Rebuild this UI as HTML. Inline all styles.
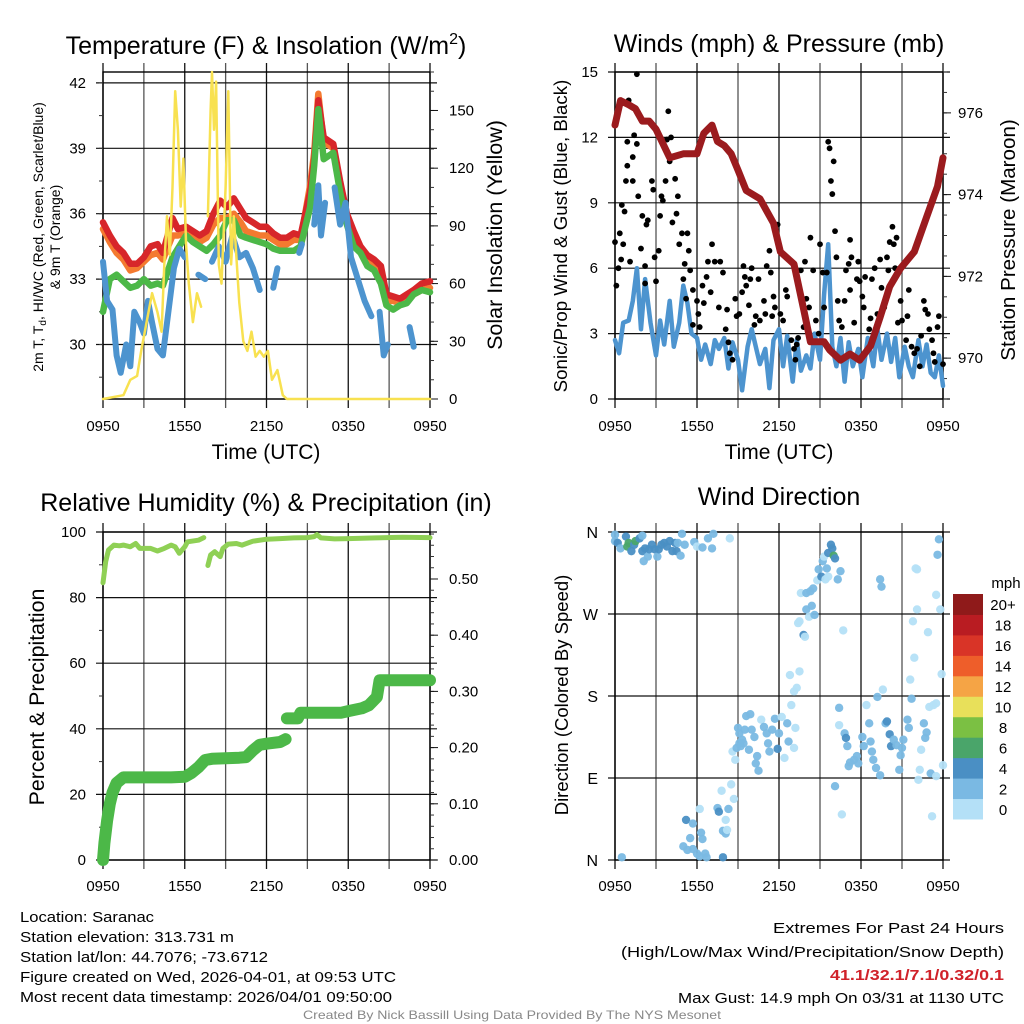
<!DOCTYPE html>
<html><head><meta charset="utf-8"><style>
html,body{margin:0;padding:0;background:#fff;}
svg{display:block;font-family:"Liberation Sans",sans-serif;}
</style></head><body>
<svg id="chart" width="1024" height="1024" viewBox="0 0 1024 1024" xmlns="http://www.w3.org/2000/svg">
<rect width="1024" height="1024" fill="#fff"/>
<text x="266" y="54" font-size="25" text-anchor="middle">Temperature (F) &amp; Insolation (W/m<tspan font-size="16" dy="-10">2</tspan><tspan dy="10">)</tspan></text>
<text x="779" y="52" font-size="25" text-anchor="middle">Winds (mph) &amp; Pressure (mb)</text>
<text x="266" y="511" font-size="25" text-anchor="middle">Relative Humidity (%) &amp; Precipitation (in)</text>
<text x="779" y="505" font-size="25" text-anchor="middle">Wind Direction</text>
<text x="266" y="459" font-size="21" text-anchor="middle">Time (UTC)</text>
<text x="779" y="459" font-size="21" text-anchor="middle">Time (UTC)</text>
<text transform="translate(43,237) rotate(-90)" font-size="14" text-anchor="middle">2m T, T<tspan font-size="10" dy="3">d</tspan><tspan dy="-3">, HI/WC (Red, Green, Scarlet/Blue)</tspan></text>
<text transform="translate(60,237) rotate(-90)" font-size="14" text-anchor="middle">&amp; 9m T (Orange)</text>
<text transform="translate(502,235) rotate(-90)" font-size="21.5" text-anchor="middle">Solar Insolation (Yellow)</text>
<text transform="translate(567,236) rotate(-90)" font-size="18.7" text-anchor="middle">Sonic/Prop Wind &amp; Gust (Blue, Black)</text>
<text transform="translate(1015,240) rotate(-90)" font-size="20.6" text-anchor="middle">Station Pressure (Maroon)</text>
<text transform="translate(44,697) rotate(-90)" font-size="21.3" text-anchor="middle">Percent &amp; Precipitation</text>
<text transform="translate(568,695) rotate(-90)" font-size="18.5" text-anchor="middle">Direction (Colored By Speed)</text>
<g id="layers"></g>
<g font-size="14.5">
<text x="20" y="922" textLength="134" lengthAdjust="spacingAndGlyphs">Location: Saranac</text>
<text x="20" y="942" textLength="214" lengthAdjust="spacingAndGlyphs">Station elevation: 313.731 m</text>
<text x="20" y="962" textLength="248" lengthAdjust="spacingAndGlyphs">Station lat/lon: 44.7076; -73.6712</text>
<text x="20" y="982" textLength="376" lengthAdjust="spacingAndGlyphs">Figure created on Wed, 2026-04-01, at 09:53 UTC</text>
<text x="20" y="1002" textLength="372" lengthAdjust="spacingAndGlyphs">Most recent data timestamp: 2026/04/01 09:50:00</text>
</g>
<g font-size="15">
<text x="773" y="933" textLength="231" lengthAdjust="spacingAndGlyphs">Extremes For Past 24 Hours</text>
<text x="621" y="957" textLength="383" lengthAdjust="spacingAndGlyphs">(High/Low/Max Wind/Precipitation/Snow Depth)</text>
<text x="830" y="980" textLength="174" lengthAdjust="spacingAndGlyphs" fill="#d0222a" font-weight="bold">41.1/32.1/7.1/0.32/0.1</text>
<text x="678" y="1003" textLength="326" lengthAdjust="spacingAndGlyphs">Max Gust: 14.9 mph On 03/31 at 1130 UTC</text>
</g>
<text x="303" y="1019" font-size="12" fill="#888" textLength="418" lengthAdjust="spacingAndGlyphs">Created By Nick Bassill Using Data Provided By The NYS Mesonet</text>
</svg>
<script>
// ---------- data ----------
const timeTickLabels = ["0950","1550","2150","0350","0950"];
const tempTicks = [30,33,36,39,42];
const solarTicks = [0,30,60,90,120,150];
const windTicks = [0,3,6,9,12,15];
const pressTicks = [970,972,974,976];
const rhTicks = [0,20,40,60,80,100];
const precipTicks = [0,0.1,0.2,0.3,0.4,0.5];
const dirTickLabels = ["N","E","S","W","N"];
const dirTicks = [0,90,180,270,360];

const tempHours = [0,0.5,1,1.5,2,2.5,3,3.5,4,4.4,5.1,5.5,6.1,6.6,7.1,7.6,8.1,8.6,9.1,9.6,10.1,10.5,11,11.5,12,12.5,13,13.5,14,14.5,15.2,15.5,15.8,16.2,16.9,17.4,17.9,18.4,18.9,19.4,19.9,20.4,20.8,21.3,21.8,22.3,22.8,23.4,24];
const tempRed = [35.6,35.0,34.5,34.2,33.7,33.7,34.0,34.5,34.6,34.2,35.8,35.3,35.4,35.2,35.0,35.2,36.0,36.6,36.3,36.7,36.2,35.8,35.6,35.4,35.4,35.1,34.9,34.9,35.1,35.0,37.0,38.5,41.2,39.5,39.2,37.5,36.0,35.2,34.5,34.1,33.9,33.6,32.3,32.2,32.1,32.3,32.5,32.8,32.9];
const tempOrange = [35.3,34.7,34.2,33.9,33.4,33.5,33.8,34.1,34.2,33.9,35.0,35.0,35.1,34.9,34.7,34.9,35.5,35.8,35.8,36.0,35.6,35.2,35.1,35.0,35.0,34.8,34.6,34.6,34.8,34.8,37.3,38.8,41.5,39.3,39.0,37.3,35.8,35.0,34.3,33.8,33.6,33.3,32.0,32.0,31.9,32.1,32.3,32.5,32.6];
const tempGreen = [31.5,33.0,33.2,32.9,32.6,32.7,33.0,32.7,32.8,32.7,34.0,34.4,35.0,34.7,34.5,34.3,34.6,35.0,35.7,35.7,35.0,34.9,34.8,34.7,34.6,34.4,34.3,34.3,34.3,34.5,36.3,38.2,40.8,38.5,38.8,37.0,35.5,34.5,34.2,33.6,33.4,32.8,31.8,31.6,31.8,31.9,32.3,32.5,32.4];
const dewHours = [0,0.3,0.7,1,1.3,1.7,2,2.3,2.7,3,3.3,3.6,4,4.4,4.8,5.2,5.6,6,6.2,7,7.5,7.8,8,8.5,9,9.5,10,10.5,11,11.5,11.9,12.5,12.8,13.1,14.4,14.6,15.0,15.5,15.8,16,16.3,16.6,17,17.4,17.8,18.2,18.7,19.2,19.7,20,20.3,20.6,20.9,21.1,22.5,22.8,23];
const dewBlue = [33.8,32.0,31.6,29.5,28.7,30.0,29.0,31.5,31.0,30.5,32.0,31.0,29.8,29.5,31.5,33.5,34.4,34.0,null,33.2,33.0,null,33.8,34.5,33.8,35.0,34.0,34.2,33.5,32.5,null,32.6,33.5,null,34.2,34.6,null,35.5,37.3,35.0,36.5,null,37.2,35.5,36.5,34.0,33.0,32.0,31.3,null,31.5,29.5,30.0,null,30.8,29.9,null];
const solarHours = [0,1.5,2,2.5,2.8,3.2,3.6,4,4.3,4.5,4.7,4.9,5.1,5.3,5.5,5.7,5.9,6.1,6.3,6.6,6.9,7.2,7.3,7.7,7.9,8.0,8.15,8.3,8.5,8.7,9.0,9.2,9.4,9.6,10.0,10.3,10.6,10.9,11.2,11.5,11.8,12.1,12.4,12.8,13.2,13.5,24];
const solarVals = [0,2,10,12,25,40,55,45,35,70,95,75,110,160,140,100,125,80,60,40,55,48,null,95,150,170,140,165,70,60,110,160,70,95,50,30,25,35,22,25,22,25,10,15,2,0,0];

const windHours = [0,0.3,0.6,1,1.3,1.6,1.9,2.2,2.6,3,3.3,3.6,4,4.3,4.7,5,5.3,5.6,6,6.3,6.6,7,7.3,7.6,8,8.3,8.6,9,9.3,9.7,10,10.3,10.6,11,11.3,11.6,12,12.3,12.6,13,13.3,13.6,14,14.3,14.6,15,15.3,15.6,15.9,16.2,16.5,16.8,17.1,17.4,17.8,18.1,18.5,18.9,19.2,19.5,19.9,20.2,20.5,20.8,21.2,21.5,21.8,22.2,22.5,22.8,23.1,23.4,23.7,24];
const windSpeed = [2.7,2.1,3.5,3.6,4.5,6.0,3.2,5.5,3.5,2.0,3.6,2.5,4.5,2.4,3.5,5.2,4.4,3.0,2.8,1.8,2.5,1.6,2.7,2.3,2.8,1.4,2.6,1.8,0.4,2.4,3.2,2.4,1.6,2.3,0.5,2.7,3.2,1.5,2.9,0.8,2.7,1.3,2.0,1.4,3.0,1.8,4.8,7.1,2.4,1.5,2.8,0.8,2.6,1.5,2.3,1.0,2.8,1.5,3.2,1.8,3.0,1.7,2.8,1.0,2.4,1.5,1.0,2.7,1.5,2.5,1.2,1.0,2.0,0.6];
const gustHours = [0,0.1,0.25,0.35,0.5,0.7,0.6,0.45,0.8,0.9,1.0,0.9,1.1,1.3,1.3,1.4,1.6,1.6,1.7,2.0,1.9,2.2,2.2,2.3,2.4,2.7,2.8,2.9,3.0,3.2,3.3,3.4,3.5,3.7,3.8,3.9,4.0,4.1,4.2,4.4,4.5,4.6,4.7,4.9,5.0,5.1,5.3,5.4,5.5,5.2,5.7,5.7,6.0,6.1,6.2,6.4,6.5,6.7,6.8,7.0,7.1,7.3,7.6,7.7,7.9,8.1,8.2,8.3,8.4,8.6,8.8,8.9,9.1,9.3,9.4,9.5,9.6,9.8,9.9,10.0,10.2,10.3,10.5,10.6,10.9,11.0,11.1,11.3,11.4,11.5,11.6,11.7,11.9,12.1,12.3,12.5,12.6,12.9,13.1,13.2,13.3,13.4,13.6,13.8,13.9,14.0,14.2,14.3,14.5,14.7,14.9,15.0,15.2,15.3,15.5,15.6,15.7,15.8,15.9,16.0,16.1,16.2,16.3,16.4,16.6,16.8,16.9,17.1,17.2,17.3,17.2,17.5,17.7,17.8,17.9,18.1,18.2,18.3,18.6,18.7,18.8,19.0,19.2,19.4,19.5,19.7,19.9,20.0,20.1,20.3,20.4,20.6,20.5,20.7,20.9,21.0,21.3,21.4,21.5,21.7,21.9,22.1,22.3,22.4,22.6,22.7,22.9,23.0,23.2,23.3,23.4,23.6,23.7,24];
const gustSpeed = [7.2,5.2,6.0,7.6,8.9,8.6,7.1,6.4,10.0,11.8,13.7,10.7,6.3,10.0,11.1,12.1,14.9,11.7,9.3,8.4,6.9,6.1,5.3,8.0,8.2,10.0,9.6,6.5,5.4,6.8,8.4,9.3,9.1,10.0,11.9,13.2,10.9,12.0,8.1,10.1,8.5,9.3,7.1,7.6,5.5,6.2,7.6,6.8,5.9,4.6,5.0,3.4,4.5,3.9,3.3,5.2,4.4,5.6,6.3,4.9,7.1,6.3,4.2,6.3,5.8,3.2,4.1,2.6,2.1,1.8,4.6,3.8,3.9,4.9,6.1,5.6,5.2,4.3,5.5,6.0,3.4,3.8,5.5,3.6,4.5,3.9,6.1,6.8,5.8,3.8,4.7,4.2,8.0,3.9,3.6,5.0,4.7,2.7,2.3,1.8,2.5,2.8,5.9,3.3,6.3,4.6,4.2,7.4,5.9,3.6,3.0,7.1,5.8,4.2,5.8,11.8,11.5,10.0,9.4,10.9,7.7,6.5,4.5,3.6,3.3,4.5,5.9,6.2,7.3,6.5,5.0,3.5,5.5,6.3,5.4,4.7,4.2,5.6,3.2,3.7,5.5,6.0,3.9,6.4,5.1,4.2,6.5,5.9,7.2,7.9,7.1,7.4,6.0,3.5,4.5,3.6,2.7,3.8,5.0,2.4,2.1,2.3,1.5,2.9,4.5,4.1,3.9,3.2,2.7,2.1,1.7,3.3,3.8,1.6];
const pressHours = [0,0.4,1,1.5,2,2.5,3,4,5,6,6.5,7.1,7.5,8,8.5,9,9.6,10.6,11.6,12.1,13.1,13.8,14.3,15.3,15.7,16.5,17.2,17.9,18.7,19.4,20.1,20.9,21.9,22.8,23.6,24];
const pressVals = [975.7,976.3,976.2,976.1,975.8,975.8,975.6,974.9,975.0,975.0,975.5,975.7,975.3,975.2,975.0,974.6,974.1,973.9,973.3,972.6,972.3,971.2,970.4,970.4,970.2,969.95,970.1,969.95,970.3,971.0,971.75,972.2,972.6,973.45,974.2,974.9];

const rhHours = [0,0.2,0.4,0.8,1.2,1.5,2,2.4,2.7,3,3.5,4,4.5,5,5.3,5.6,6,6.2,7,7.4,7.5,7.7,7.9,8.2,8.6,8.8,9.2,9.8,10.2,11,12,13,14,15,15.5,15.7,16,17,18,20,22,24];
const rhVals = [84.5,91,94.5,96,95.8,96,95.5,96.5,95,95,95,94.2,95,96,95.5,93.5,95.5,97,97.5,98.3,null,89.8,93,94,92.5,95,96.3,96.5,96,97.2,97.8,98,98.2,98.3,98.6,99.2,98.2,97.9,98,98.2,98.4,98.3];
const precipHours = [0,0.1,0.3,0.5,0.7,1,1.5,2,5,6,6.5,7,7.5,8,10,10.5,11,11.5,12,13,13.4,13.45,13.5,14.3,14.5,17.5,18,19,19.5,20.1,20.3,24];
const precipVals = [0,0.03,0.07,0.10,0.12,0.137,0.147,0.147,0.147,0.148,0.155,0.165,0.178,0.180,0.182,0.183,0.195,0.205,0.207,0.210,0.215,null,0.252,0.252,0.262,0.262,0.265,0.270,0.275,0.290,0.32,0.32];

const dirHours = [0,0,0.2,0.4,0.8,0.9,1.0,1.2,1.4,1.5,1.8,2.0,2.0,2.1,2.2,2.4,2.5,2.7,2.9,3.1,3.2,3.4,3.6,3.8,4.0,4.2,4.4,4.5,4.6,4.8,4.9,5.1,5.8,6.0,6.4,6.8,7.1,7.2,8.4,0.5,
5.2,5.7,5.5,6.2,6.3,6.4,5.0,5.3,5.7,6.0,6.2,6.6,6.7,7.5,7.6,7.8,7.9,7.9,8.1,8.1,8.2,8.3,8.5,8.7,
8.6,8.8,8.9,9.0,9.1,9.2,9.3,9.5,9.6,9.9,10.0,10.2,10.4,10.5,10.7,10.9,11.1,11.2,11.3,11.5,11.7,11.9,12.0,12.2,12.4,12.6,12.7,12.9,13.1,13.2,13.1,13.3,12.8,13.5,10.3,9.8,9.4,9.1,
13.4,13.5,13.8,13.9,14.0,14.2,14.4,14.6,13.6,14.0,14.3,14.5,14.8,14.9,15.1,15.2,15.3,15.4,15.5,15.6,15.6,15.8,15.9,16.0,16.1,16.3,16.5,16.7,
16.4,16.4,16.8,16.9,17.0,17.2,17.1,17.5,17.7,17.8,18.1,18.2,18.4,18.6,18.7,18.8,18.9,19.1,19.2,19.4,19.6,19.8,19.9,20.1,20.2,20.4,20.6,20.8,20.9,21.0,21.1,21.4,21.5,21.7,21.6,21.8,21.9,22.0,22.1,22.1,22.2,22.3,22.4,22.6,22.7,22.8,22.9,23.0,23.1,23.2,23.3,23.5,23.5,23.6,23.7,23.8,23.9,24.0,19.4,19.5,16.1,16.6,23.5];
const dirDeg = [357,350,348,342,355,344,348,339,346,350,353,356,339,328,342,333,341,346,341,333,341,346,348,344,350,339,348,339,348,334,358,346,349,344,343,353,342,358,353,3,
44,40,24,56,30,23,15,11,12,7,4,7,3,57,53,76,3,32,29,44,33,56,83,67,
119,110,123,145,139,125,132,143,158,160,143,135,114,98,154,146,139,128,119,143,155,122,139,157,112,150,130,170,185,145,123,189,203,207,106,121,128,128,
260,262,247,245,275,267,279,269,293,293,295,298,307,319,311,328,333,308,320,311,337,346,342,334,331,308,317,252,
167,148,139,134,125,107,103,110,114,106,135,125,170,150,130,119,110,101,179,93,187,150,152,138,125,132,126,99,115,123,132,154,145,177,198,262,222,320,275,319,88,99,121,150,134,140,250,168,95,48,170,172,291,335,352,275,204,104,308,300,81,50,92];
const dirSpeed = [3,3,5,3,5,7,7,5,5,7,5,3,5,3,5,3,5,5,5,3,5,5,5,5,5,5,5,5,3,3,3,3,3,1,3,3,3,3,1,3,
5,3,3,1,3,3,3,3,3,3,3,3,3,3,5,1,5,3,3,1,1,3,1,1,
1,1,3,3,3,3,3,3,3,3,3,3,3,3,1,3,3,3,3,3,3,5,3,1,1,3,3,1,1,1,1,1,1,1,3,3,3,3,
1,1,5,1,3,1,3,3,1,3,3,3,1,3,5,3,1,1,3,1,5,5,5,7,5,3,3,1,
3,1,3,5,3,3,3,3,3,3,3,3,1,3,3,3,3,3,3,3,1,3,5,5,5,3,3,3,3,3,3,3,3,3,1,1,1,1,1,1,1,1,1,3,3,3,1,1,3,1,1,1,1,3,3,1,1,1,3,3,3,1,1];
const speedBins = ["0","2","4","6","8","10","12","14","16","18","20+"];
const speedColors = ["#b4e0f7","#7ab9e3","#4a8fc4","#4aa56a","#7bc043","#e8e05a","#f5a445","#ee5e2a","#d93427","#b91c22","#8f1a1a"];

// ---------- drawing ----------
const NS = "http://www.w3.org/2000/svg";
const root = document.getElementById('layers');
function mk(tag, attrs, parent){ const e=document.createElementNS(NS,tag); for(const k in attrs) e.setAttribute(k,attrs[k]); (parent||root).appendChild(e); return e; }
function lin(d0,d1,r0,r1){ return v => r0 + (v-d0)/(d1-d0)*(r1-r0); }

function panelFrame(name,x0,x1,y0,y1,hTicksVals,ly){
  const g=mk('g',{});
  
  
  for(let i=0;i<=8;i++){
    const x=x0+(x1-x0)*i/8;
    const l=mk('line',{x1:x,x2:x,y1:y0-9,y2:y1+9,stroke:(i%2? '#555':'#111'),'stroke-width':1.3},g);
    
    
  }
  hTicksVals.forEach(v=>{
    const y=ly(v);
    const l=mk('line',{x1:x0-7,x2:x1+7,y1:y,y2:y,stroke:'#111','stroke-width':1.2},g);
    
    
  });
  mk('rect',{x:x0,y:y0,width:x1-x0,height:y1-y0,fill:'none',stroke:'#000','stroke-width':1.4},g);
  return g;
}
function xLabels(name,x0,x1,y){
  timeTickLabels.forEach((t,i)=>{
    const e=mk('text',{x:x0+(x1-x0)*i/4,y:y,'font-size':15,'text-anchor':'middle'});
    e.textContent=t;
    
    
  });
}
function yLabels(name,vals,sy,x,anchor,fmt){
  vals.forEach(v=>{
    const e=mk('text',{x:x,y:sy(v)+5,'font-size':15,'text-anchor':anchor});
    e.textContent=fmt?fmt(v):v;
    
    
  });
}
function minorTicks(sy,from,to,step,x,dir,len){
  for(let v=from; v<=to+1e-9; v+=step){ const y=sy(v); mk('line',{x1:x,x2:x+dir*len,y1:y,y2:y,stroke:'#333','stroke-width':1}); }
}
function pathFrom(xs,ys,sx,sy){
  let d='',pen=false;
  for(let i=0;i<xs.length;i++){
    if(ys[i]===null||ys[i]===undefined){pen=false;continue;}
    d+=(pen?'L':'M')+sx(xs[i]).toFixed(1)+' '+sy(ys[i]).toFixed(1)+' ';
    pen=true;
  }
  return d;
}

// Panel 1
{
  const x0=103,x1=430,y0=72,y1=399;
  const sx=lin(0,24,x0,x1), sy=lin(27.5,42.5,y1,y0), ss=lin(0,170,y1,y0);
  panelFrame('temperature',x0,x1,y0,y1,tempTicks,sy);
  mk('line',{x1:x0,x2:x1,y1:ss(0),y2:ss(0),stroke:'#111','stroke-width':1.2});
  minorTicks(sy,28.5,42,1.5,x0,-1,4);
  minorTicks(ss,0,170,10,x1,1,4);
  solarTicks.forEach(v=>mk('line',{x1:x1,x2:x1+8,y1:ss(v),y2:ss(v),stroke:'#111'}));
  yLabels('temperature-y',tempTicks,sy,86,'end');
  yLabels('solar-y',solarTicks,ss,449,'start');
  xLabels('temperature',x0,x1,431);
  const series=[['orange-9m-temp-line',tempHours,tempOrange,'#f47a30',6.5],['red-2m-temp-line',tempHours,tempRed,'#d7262a',6.5],['green-hi-wc-line',tempHours,tempGreen,'#4cb848',6.5],['blue-dewpoint-line',dewHours,dewBlue,'#4d94cf',6],['yellow-solar-line',solarHours,solarVals,'#f8e150',2.5]];
  series.forEach(s=>{
    const yS = s[0].startsWith('yellow')? ss : sy;
    const p=mk('path',{d:pathFrom(s[1],s[2],sx,yS),fill:'none',stroke:s[3],'stroke-width':s[4],'stroke-linejoin':'round','stroke-linecap':'round'});
    
    
  });
}
// Panel 2
{
  const x0=615,x1=943,y0=72,y1=399;
  const sx=lin(0,24,x0,x1), sy=lin(0,15,y1,y0), sp=lin(969,977,y1,y0);
  panelFrame('wind',x0,x1,y0,y1,windTicks,sy);
  minorTicks(sp,969,977,0.5,x1,1,4);
  pressTicks.forEach(v=>mk('line',{x1:x1,x2:x1+8,y1:sp(v),y2:sp(v),stroke:'#111'}));
  yLabels('wind-y',windTicks,sy,598,'end');
  yLabels('pressure-y',pressTicks,sp,958,'start');
  xLabels('wind',x0,x1,431);
  const wp=mk('path',{d:pathFrom(windHours,windSpeed,sx,sy),fill:'none',stroke:'#4d94cf','stroke-width':4.5,'stroke-linejoin':'round','stroke-linecap':'round'});
  
  
  gustHours.forEach((t,i)=>{
    const c=mk('circle',{cx:sx(t),cy:sy(gustSpeed[i]),r:2.9,fill:'#000'});
    
    
  });
  const pp=mk('path',{d:pathFrom(pressHours,pressVals,sx,sp),fill:'none',stroke:'#9b1b1e','stroke-width':7,'stroke-linejoin':'round','stroke-linecap':'round'});
  
  
}
// Panel 3
{
  const x0=103,x1=430,y0=532,y1=860;
  const sx=lin(0,24,x0,x1), sy=lin(0,100,y1,y0), sp=lin(0,0.5836,y1,y0);
  panelFrame('humidity',x0,x1,y0,y1,rhTicks,sy);
  minorTicks(sy,10,90,20,x0,-1,4);
  minorTicks(sp,0,0.58,0.02,x1,1,4);
  precipTicks.forEach(v=>mk('line',{x1:x1,x2:x1+8,y1:sp(v),y2:sp(v),stroke:'#111'}));
  yLabels('humidity-y',rhTicks,sy,86,'end');
  yLabels('precip-y',precipTicks,sp,449,'start',v=>v.toFixed(2));
  xLabels('humidity',x0,x1,891);
  const pr=mk('path',{d:pathFrom(precipHours,precipVals,sx,sp),fill:'none',stroke:'#4cb848','stroke-width':12,'stroke-linejoin':'round','stroke-linecap':'round'});
  
  
  const rh=mk('path',{d:pathFrom(rhHours,rhVals,sx,sy),fill:'none',stroke:'#8fd055','stroke-width':5,'stroke-linejoin':'round','stroke-linecap':'round'});
  
  
}
// Panel 4
{
  const x0=615,x1=943,y0=532,y1=860;
  const sx=lin(0,24,x0,x1), sy=lin(0,360,y1,y0);
  panelFrame('direction',x0,x1,y0,y1,dirTicks,sy);
  dirTicks.forEach((v,i)=>{
    const e=mk('text',{x:598,y:sy(v)+6,'font-size':16,'text-anchor':'end'});
    e.textContent=dirTickLabels[i];
    
    
  });
  xLabels('direction',x0,x1,891);
  dirHours.forEach((t,i)=>{
    const bin=Math.min(10,Math.floor(dirSpeed[i]/2));
    const c=mk('circle',{cx:sx(t),cy:sy(dirDeg[i]),r:4.2,fill:speedColors[bin],'fill-opacity':0.95});
    
    
  });
  const cb=mk('g',{});
  
  
  const top=594,bot=819,h=(bot-top)/11;
  speedColors.forEach((col,i)=>{
    const y=bot-(i+1)*h;
    const r=mk('rect',{x:953,y:y,width:30,height:h+0.5,fill:col},cb);
    
    
    const t=mk('text',{x:1003,y:y+h/2+6,'font-size':15,'text-anchor':'middle'},cb);
    t.textContent=speedBins[i];
    
    
  });
  const u=mk('text',{x:1006,y:588,'font-size':15,'text-anchor':'middle'},cb);
  u.textContent='mph';
  
  
}
</script>
</body></html>
